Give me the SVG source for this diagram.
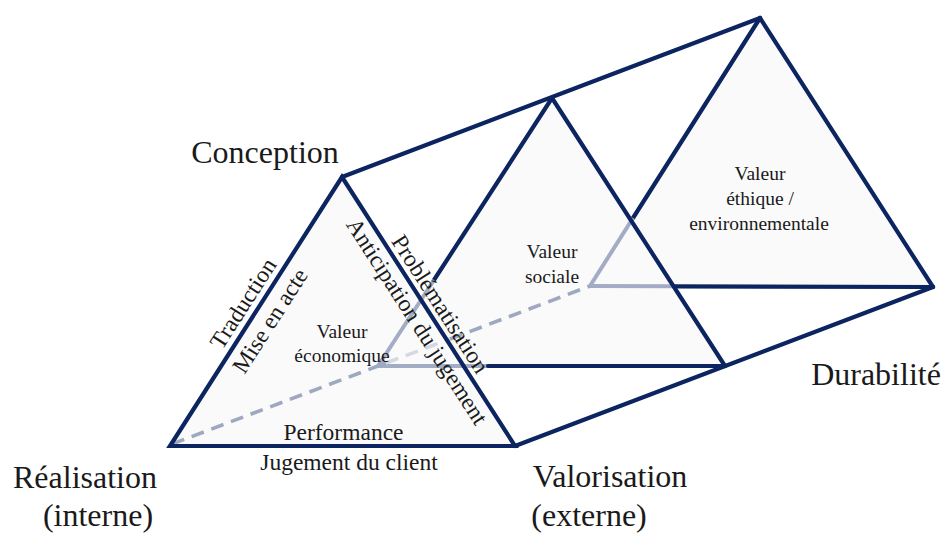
<svg xmlns="http://www.w3.org/2000/svg" width="946" height="537" viewBox="0 0 946 537">
  <style>
    .fill { fill: #fafafb; stroke: none; }
    .edge { stroke: #0c2560; stroke-width: 4.2; stroke-linecap: round; fill: none; }
    .hidden { stroke: #a2acc4; stroke-width: 4; fill: none; }
    .dash { stroke: #9ea8c0; stroke-width: 3.6; stroke-dasharray: 13 8; fill: none; }
    .dashlight { stroke: #d3d8e4; stroke-width: 3.6; stroke-dasharray: 13 8; fill: none; }
    text { font-family: "Liberation Serif", "Times New Roman", serif; fill: #1a1a1a; text-anchor: middle; }
    .big { font-size: 32px; }
    .edgelbl { font-size: 23.5px; }
    .inner { font-size: 19.5px; }
  </style>

  <g id="faces">
    <polygon class="fill" points="760,18 590,286 933,287"/>
    <polygon class="fill" points="552,98 378,366 725,366"/>
    <polygon class="fill" points="342,177 170,446 515,446"/>
  </g>

  <g id="back-triangle">
    <line class="edge" x1="760" y1="18" x2="933" y2="287"/>
    <line class="edge" x1="760" y1="18" x2="633" y2="218"/>
    <line class="hidden" x1="633" y1="218" x2="590" y2="286"/>
    <line class="hidden" x1="590" y1="286" x2="674" y2="286.3"/>
    <line class="edge" x1="674" y1="286.3" x2="933" y2="287"/>
    <text class="inner" x="760" y="180">Valeur</text>
    <text class="inner" x="760" y="205">éthique /</text>
    <text class="inner" x="759" y="230">environnementale</text>
  </g>

  <g id="middle-triangle">
    <line class="edge" x1="552" y1="98" x2="725" y2="366"/>
    <line class="edge" x1="552" y1="98" x2="434" y2="280"/>
    <line class="hidden" x1="434" y1="280" x2="378" y2="366"/>
    <line class="hidden" x1="378" y1="366" x2="488" y2="366"/>
    <line class="edge" x1="488" y1="366" x2="725" y2="366"/>
    <text class="inner" x="552" y="258">Valeur</text>
    <text class="inner" x="552" y="283">sociale</text>
  </g>

  <g id="connectors">
    <line class="edge" x1="342" y1="177" x2="760" y2="18"/>
    <line class="edge" x1="515" y1="446" x2="933" y2="287"/>
    <line class="dash" x1="172" y1="444" x2="378" y2="366"/>
    <line class="dash" x1="378" y1="366" x2="386" y2="363"/>
    <line class="dashlight" x1="386" y1="363" x2="450" y2="339"/>
    <line class="dash" x1="450" y1="339" x2="590" y2="286"/>
  </g>

  <g id="front-triangle">
    <polygon class="edge" points="342,177 170,446 515,446" stroke-linejoin="miter"/>
    <text class="inner" x="342" y="338">Valeur</text>
    <text class="inner" x="342" y="362">économique</text>
  </g>

  <g id="edge-labels">
    <g transform="translate(255.5,311.5) rotate(-57.3)">
      <text class="edgelbl" x="0" y="-7">Traduction</text>
      <text class="edgelbl" x="0" y="25">Mise en acte</text>
    </g>
    <g transform="translate(428.8,311.4) rotate(57.2)">
      <text class="edgelbl" x="0" y="-6">Problématisation</text>
      <text class="edgelbl" x="2" y="23">Anticipation du jugement</text>
    </g>
    <text class="edgelbl" x="343.5" y="440">Performance</text>
    <text class="edgelbl" x="349" y="470">Jugement du client</text>
  </g>

  <g id="pole-labels">
    <text class="big" x="265" y="163">Conception</text>
    <text class="big" x="85" y="488">Réalisation</text>
    <text class="big" x="98" y="526">(interne)</text>
    <text class="big" x="610" y="487">Valorisation</text>
    <text class="big" x="589" y="526">(externe)</text>
    <text class="big" x="876" y="385">Durabilité</text>
  </g>
</svg>
